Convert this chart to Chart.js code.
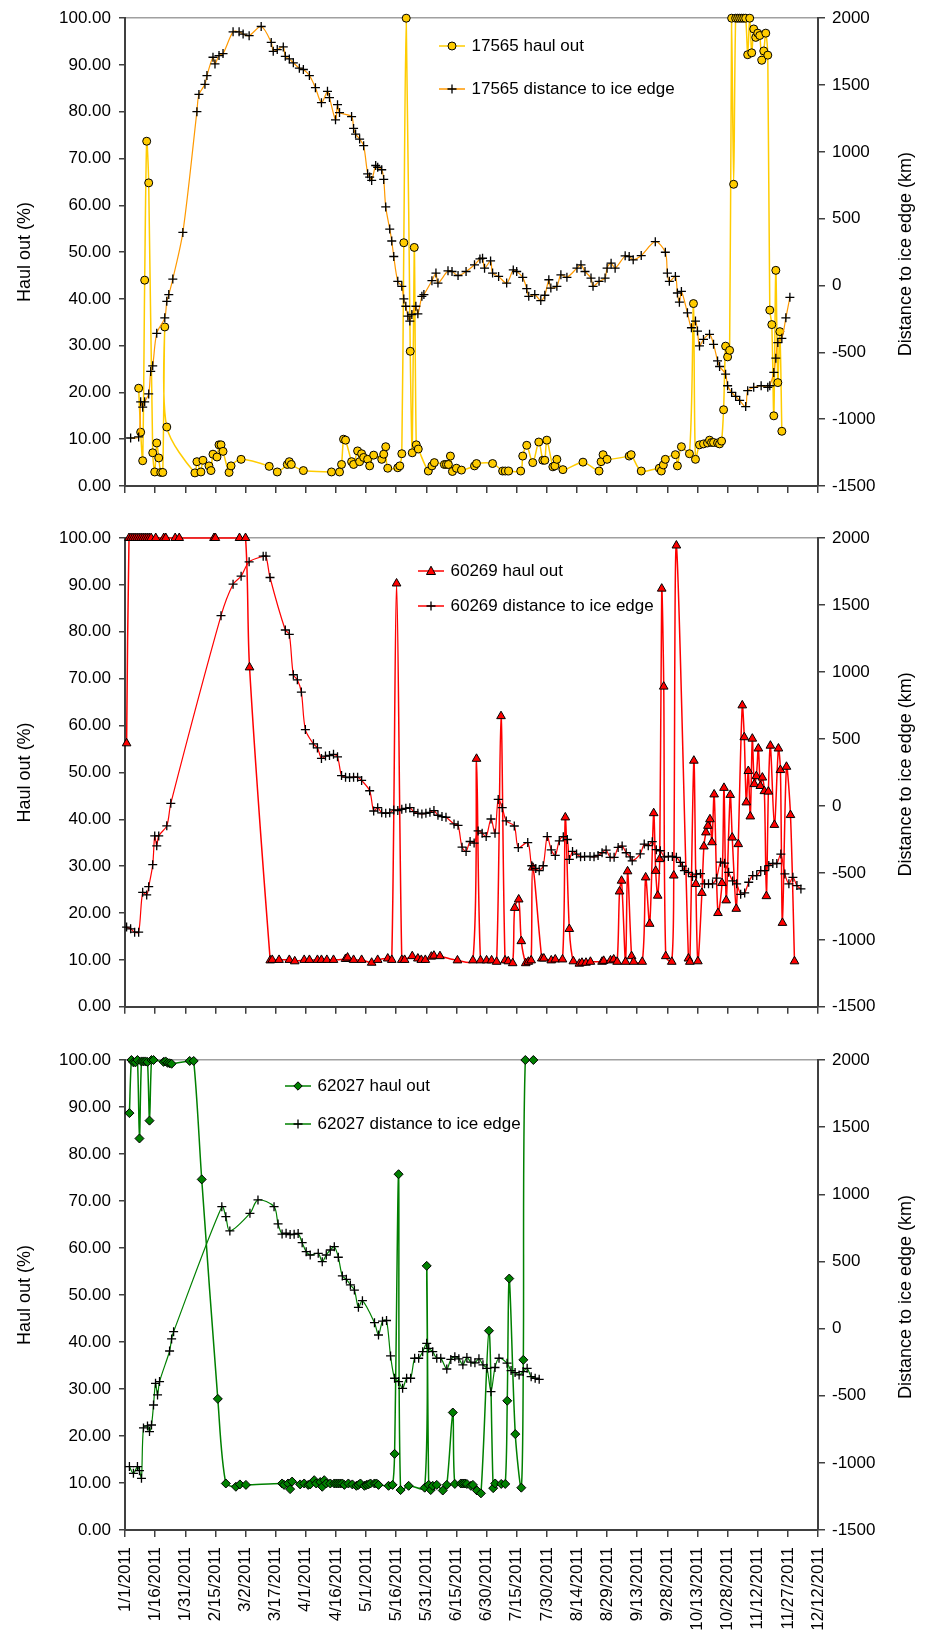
<!DOCTYPE html>
<html>
<head>
<meta charset="utf-8">
<script src="https://cdn.jsdelivr.net/npm/chart.js"></script>
<style>
body { margin: 0; background: #fff; width: 935px; height: 1639px; overflow: hidden; position: relative; }
canvas { position: absolute; left: 0; }
</style>
</head>
<body>
<canvas id="c1" width="935" height="505" style="top:0px"></canvas>
<canvas id="c2" width="935" height="520" style="top:505px"></canvas>
<canvas id="c3" width="935" height="614" style="top:1025px"></canvas>
<script>
// x axis: days since 1/1/2011, ticks every 15 days
var tickLabels = ['1/1/2011', '1/16/2011', '1/31/2011', '2/15/2011', '3/2/2011', '3/17/2011', '4/1/2011', '4/16/2011',
    '5/1/2011', '5/16/2011', '5/31/2011', '6/15/2011', '6/30/2011', '7/15/2011', '7/30/2011', '8/14/2011',
    '8/29/2011', '9/13/2011', '9/28/2011', '10/13/2011', '10/28/2011', '11/12/2011', '11/27/2011', '12/12/2011'];

// 17565
var haul17565Days = [6.8,7.8,8.8,9.8,10.8,11.8,13.8,14.8,15.8,16.8,17.8,18.8,19.8,20.8,34.8,35.8,37.8,38.8,41.8,42.8,
    43.8,45.8,46.8,47.8,48.8,51.8,52.8,57.8,71.8,75.8,80.8,81.8,82.8,88.8,102.8,106.8,107.8,108.8,109.8,112.8,
    113.8,115.8,116.8,117.8,118.8,120.8,121.8,123.8,127.8,128.8,129.8,130.8,135.8,136.8,137.8,138.8,140,142,143,144,
    145,146,151,152.8,154,159,160,161,162,163,165,167.5,174,175,183,188,189.3,191,197,198,
    200,203,206,208,209,210,213,214,215,218,228,236,237,238,240,251,252,257,266,267,
    268,269,274,275,277,281,283,284,286,288,290,291,292,293,295,296,297,298,299,300,
    301,302,303,304,305,306,307,308,309,310,311,312,313,314,315,316,317,318,319,320,
    321,322,323,324,325,326,327];
var haul17565 = [20.9,11.5,5.4,44,73.7,64.8,7.1,3.0,9.2,6.0,2.9,2.9,34,12.6,2.8,5.2,3.0,5.5,4.3,3.3,
    6.8,6.2,8.8,8.8,7.4,2.9,4.3,5.7,4.2,3.0,4.6,5.2,4.6,3.3,3.0,3.0,4.6,10.0,9.8,5.2,
    4.6,7.5,5.2,6.9,6.1,5.7,4.3,6.6,5.7,6.8,8.4,3.8,3.9,4.3,6.9,52,100,28.8,7.1,51,
    8.8,7.9,3.2,4.3,5.0,4.6,4.6,4.6,6.4,3.1,3.8,3.4,4.3,4.8,4.8,3.2,3.2,3.2,3.2,6.4,
    8.7,5.0,9.4,5.5,5.5,9.8,4.1,4.3,5.7,3.5,5.1,3.2,5.2,6.7,5.7,6.4,6.7,3.2,3.8,3.2,
    4.5,5.7,6.7,4.3,8.4,6.9,39,5.7,8.8,9.0,9.2,9.8,9.3,9.3,9.2,9.0,9.6,16.3,29.9,27.6,
    29.0,100,64.5,100,100,100,100,100,100,92.2,100,92.6,97.7,95.9,96.8,96.3,91,93,96.8,92.1,
    37.6,34.5,15,46.1,22.1,33,11.7];
var dist17565Days = [2.8,6.8,7.8,8.8,9.8,11.8,12.8,13.8,15.8,19.8,20.8,21.8,23.8,28.8,35.8,36.8,39.8,40.8,43.8,44.8,
    46.8,48.8,53.8,56.8,58.8,61.8,67.8,72.8,73.8,75.8,78.8,79.8,81.8,83.8,86.8,88.8,91.8,94.8,97.8,100.8,
    101.8,104.8,105.8,106.8,112.8,113.8,114.8,116.8,118.8,120.8,121.8,122.8,124.8,125.8,127.8,128.8,129.8,131.8,132.8,133.8,
    135.8,137.8,138.8,139.8,140.8,141.8,142.8,144.8,145.8,147.8,148.8,152.8,154.8,155.8,160.8,162.8,165.8,169.8,174,176.7,
    178,179,182,183,186,190,193.3,195,198,200,201,204,207,209,211,212,215,217,220,225,
    227,229,232,233,236,239,240,242,244,249,251,253,257,264,269,270,271,274,275,276,
    277,280,282,284,285,286,288,291,293,295,296,299,300,302,304,306,309,310,313,316.7,
    320,321,323,324,325,327,329,331];
var dist17565 = [-1141,-1133,-870,-910,-870,-811,-643,-601,-358,-242,-118,-68,48,397,1301,1430,1505,1571,1708,1658,
    1720,1735,1898,1898,1881,1869,1938,1819,1752,1765,1785,1715,1695,1666,1626,1616,1571,1480,1368,1453,
    1406,1240,1353,1294,1264,1175,1133,1096,1046,836,811,786,898,885,866,794,588,422,333,217,
    31,-6,-100,-155,-229,-266,-217,-155,-212,-81,-68,36,93,18,110,105,75,105,155,199,
    204,130,184,93,68,18,117,105,61,-24,-81,-68,-113,-73,43,-19,-6,80,61,130,
    155,105,56,-6,31,56,130,167,130,222,217,192,224,328,249,93,31,68,-56,-125,
    -44,-204,-316,-266,-341,-452,-403,-365,-440,-564,-606,-663,-750,-800,-830,-860,-906,-787,-762,-750,
    -762,-750,-650,-544,-427,-395,-242,-88];

// 60269
var haul60269Days = [0.8,2,3,4,5,6,7,8,9,10,11,12,13,15.3,19.3,20.3,25,27,44.3,45,
    57,60,62,72.3,73.3,76.7,81.8,84.5,89.2,91.8,95.8,97.8,100.5,103.8,109.8,110.8,113.8,117.8,122.8,125.8,
    130.8,132.8,135.2,137.8,139.2,143,145.8,147.5,149.5,152.5,153.8,156.8,165.5,173.2,175,177,180,182.5,185,187.2,
    189.2,190.8,193,194,196,197.3,199.5,200.8,202.2,203,207.5,208.5,212.2,214.2,217.8,219.2,221.2,223.2,226.2,227.5,
    229.5,231.7,237.5,238.3,241.7,243.3,245,246.2,247.2,249.2,250.2,252.2,253.2,257.5,259.2,261.2,263.2,264.2,265.2,266.2,
    267.2,268.2,269.2,272.2,273.2,274.5,280.5,281.2,283.2,284.2,285.2,287.2,288.2,289.2,290.2,291.2,292.2,293.3,295.2,297.2,
    298.2,299.3,301.3,302.3,304.3,305.3,307.3,308.3,309.3,310.3,311.3,312.3,313.3,314.3,315.3,316.3,317.3,318.3,319.3,320.3,
    321.3,323.3,325.3,326.3,327.3,329.3,331.3,333.3];
var haul60269 = [56.2,100,100,100,100,100,100,100,100,100,100,100,100,100,100,100,100,100,100,100,
    100,100,72.4,9.9,10,10,10,9.7,10,10,10,10,10,10,10.2,10.5,10,10,9.4,10,
    10.3,10,90.3,10,10,10.8,10.3,10,10,10.7,10.9,10.8,9.9,9.9,52.9,9.9,9.9,9.9,9.6,62,
    9.9,9.7,9.3,21.1,22.9,14,9.3,9.6,9.9,29.7,10.3,10.3,9.9,10.1,10.1,40.4,16.6,9.7,9.2,9.4,
    9.4,9.6,9.6,9.8,9.9,10.1,9.6,24.6,26.9,9.6,28.9,10.8,9.6,9.6,27.6,17.7,41.3,29.0,23.7,31.5,
    89.2,68.3,10.8,9.6,28,98.4,10.3,9.6,52.5,26.2,9.7,24.3,34.2,37.2,38.6,40,35.1,45.3,20,26.4,
    46.7,22.7,45.2,36.1,20.9,34.7,64.3,57.5,43.6,50.3,40.6,57.2,47.5,49.2,55.1,47.1,48.9,46,23.6,45.9,
    55.7,38.8,55.1,50.5,17.9,51.2,40.9,9.7];
var dist60269Days = [0.8,2.8,4.8,6.8,8.8,10.8,11.8,13.8,14.8,15.8,16.8,20.8,22.8,47.8,53.8,57.8,61.8,68.8,70.2,72.2,
    79.8,81.8,83.8,85.8,87.8,89.8,93.8,95.8,97.8,99.8,101.8,103.8,105.8,107.8,109.8,111.8,113.8,115.8,117.8,121.8,
    123.8,125.8,127.8,129.8,131.8,133.8,135.8,137.8,139.8,141.8,143.8,145.8,147.8,149.8,151.8,153.8,155.8,157.8,159.8,163.8,
    165.8,167.8,169.8,171.8,173.8,175.8,177.8,179.8,182.2,184.2,185.8,187.8,189.8,193.8,195.8,200.5,202.5,204.5,206.2,208.2,
    210.2,212.2,214.2,216.2,218.2,220.2,221.2,222.8,224.8,226.8,228.8,231.5,233.5,235.5,237.5,239.5,241.5,243.5,245.5,247.5,
    249.5,251.5,252.5,256.5,258.5,260.5,262.5,264.5,266.5,268.5,270.5,272.5,274.5,276.5,277.5,278.5,280.5,282.5,284.5,286.5,
    288.5,290.5,292.5,294.5,296.5,298.5,300.5,302.5,304.5,306.5,308.5,310.5,312.5,314.5,316.5,318.5,320.5,322.5,324.5,326.5,
    328.5,330.5,332.5,334.5,336.5];
var dist60269 = [-905,-918,-943,-943,-645,-665,-603,-439,-224,-298,-224,-149,19,1420,1655,1715,1822,1864,1864,1705,
    1313,1281,979,941,850,570,463,433,354,372,376,385,366,226,214,212,214,214,190,113,
    -38,-13,-52,-55,-52,-30,-35,-25,-18,-13,-43,-55,-60,-55,-48,-35,-70,-80,-85,-135,
    -145,-308,-340,-266,-278,-187,-204,-229,-98,-204,48,-13,-112,-150,-311,-274,-447,-467,-484,-447,
    -229,-328,-370,-261,-230,-251,-400,-340,-360,-380,-378,-378,-380,-370,-350,-330,-384,-384,-310,-300,
    -350,-380,-410,-359,-285,-297,-267,-327,-335,-380,-378,-378,-384,-422,-450,-483,-496,-528,-510,-506,
    -582,-582,-582,-540,-420,-428,-496,-560,-582,-660,-650,-570,-520,-520,-483,-483,-446,-430,-430,-360,
    -508,-582,-533,-595,-620];

// 62027
var haul62027Days = [2.2,3.2,4.2,5.2,6.2,7.2,8.2,9.2,10.2,11.2,12.2,13.2,14.2,19.2,20.2,21.2,22.2,23.2,32.2,34.2,
    38.2,46.2,50.2,55.2,57.2,60.2,78.2,79.2,81.2,82.2,83.2,87.2,89.2,91.2,92.2,94.2,95.2,97.2,98.2,99.2,
    100.2,102.2,104.2,105.2,106.2,107.2,108.2,109.2,111.2,113.2,115.2,116.2,117.2,119.2,120.2,121.2,122.2,124.2,125.2,126.2,
    131.2,133.2,134.2,136.2,137.2,141.2,149.2,150.2,151.2,152.2,153.2,155.2,158.2,160.2,163.2,164.2,167.2,168.2,169.2,170.2,
    172.2,173.2,175.2,177.2,181.2,183.3,184.3,187.3,189.3,190.3,191.3,194.3,197.3,198.3,199.3,203.3];
var haul62027 = [88.7,100,99.5,99.5,100,83.3,99.7,99.7,99.7,99.6,87.1,100,100,99.6,99.7,99.4,99.3,99.2,99.8,99.8,
    74.6,27.9,9.9,9.2,9.7,9.6,9.9,9.6,9.9,8.7,10.3,9.7,9.9,9.6,9.7,10.6,9.9,10.2,9.2,10.6,
    9.9,9.9,9.9,9.9,9.9,9.9,9.9,9.6,9.9,9.7,9.4,9.6,9.9,9.4,9.6,9.7,9.9,9.9,9.9,9.6,
    9.4,9.6,16.2,75.7,8.5,9.4,9.0,56.2,9.6,8.5,9.4,9.6,8.4,9.6,25,9.8,9.9,9.9,9.9,9.8,
    9.4,9.6,8.4,7.8,42.4,8.9,9.9,9.8,9.8,27.5,53.5,20.4,9.0,36.2,100,100];
var dist62027Days = [2.2,4.2,6.2,7.2,8.2,9.2,11.2,12.2,13.2,14.2,15.2,16.2,17.2,22.2,23.2,24.2,48.2,50.2,52.2,62.2,
    66.2,74.2,76.2,78.2,80.2,82.2,84.2,86.2,88.2,90.2,92.2,96.2,98.2,100.2,102.2,104.2,106.2,108.2,110.2,112.2,
    114.2,116.2,118.2,124.2,126.2,128.2,130.2,132.2,134.2,136.2,138.2,140.2,142.2,144.2,146.2,148.2,150.2,151.2,153.2,155.2,
    157.2,160.2,162.2,164.2,166.2,168.2,170.2,172.2,174.2,176.2,178.2,180.2,182.2,184.2,186.2,190.2,192.2,194.2,196.2,198.2,
    200.2,202.2,204.2,206.2];
var dist62027 = [-1028,-1078,-1028,-1058,-1115,-740,-725,-767,-718,-569,-408,-494,-395,-167,-77,-23,908,833,727,858,
    958,908,779,704,710,700,703,708,640,573,548,560,498,548,585,610,531,392,367,325,
    287,158,208,44,-48,55,60,-204,-370,-395,-445,-370,-370,-221,-221,-172,-110,-147,-172,-221,
    -221,-301,-230,-210,-225,-270,-215,-250,-255,-225,-270,-296,-470,-290,-221,-258,-313,-328,-345,-320,
    -296,-358,-370,-378];

Chart.defaults.font.family = '"Liberation Sans", Arial, sans-serif';
Chart.defaults.color = '#000';

function pts(days, vals) {
    return days.map(function (d, i) { return {x: d, y: vals[i]}; });
}

// small line + marker picture for the legend
function legendIcon(lineColor, shape, fill) {
    var c = document.createElement('canvas');
    c.width = 26; c.height = 14;
    var g = c.getContext('2d');
    g.strokeStyle = lineColor; g.lineWidth = 1.5;
    g.beginPath(); g.moveTo(0, 7); g.lineTo(26, 7); g.stroke();
    g.fillStyle = fill; g.strokeStyle = '#000'; g.lineWidth = 1;
    g.beginPath();
    if (shape === 'circle') {
        g.arc(13, 7, 4, 0, 2 * Math.PI);
    } else if (shape === 'triangle') {
        g.moveTo(13, 2.2); g.lineTo(17.5, 10.5); g.lineTo(8.5, 10.5); g.closePath();
    } else if (shape === 'rectRot') {
        g.moveTo(13, 2.8); g.lineTo(17.2, 7); g.lineTo(13, 11.2); g.lineTo(8.8, 7); g.closePath();
    }
    if (shape === 'cross') {
        g.moveTo(13, 2.5); g.lineTo(13, 11.5); g.moveTo(8.5, 7); g.lineTo(17.5, 7);
        g.lineWidth = 1.3; g.stroke();
    } else {
        g.fill(); g.stroke();
    }
    return c;
}

// put the legend at a fixed spot inside the plot
var placeLegend = {
    id: 'placeLegend',
    afterLayout: function (chart, args, opts) {
        var lg = chart.legend;
        lg.left = opts.x; lg.top = opts.y;
        lg.width = 450; lg.height = 200;
        lg.right = opts.x + 450; lg.bottom = opts.y + 200;
    }
};

// right axis title reads bottom to top
var rightTitle = {
    id: 'rightTitle',
    afterDraw: function (chart) {
        var ctx = chart.ctx, a = chart.chartArea;
        ctx.save();
        ctx.translate(906, (a.top + a.bottom) / 2 + 2);
        ctx.rotate(-Math.PI / 2);
        ctx.font = '18px "Liberation Sans", Arial, sans-serif';
        ctx.fillStyle = '#000';
        ctx.textAlign = 'center';
        ctx.textBaseline = 'middle';
        ctx.fillText('Distance to ice edge (km)', 0, 0);
        ctx.restore();
    }
};

function makePanel(id, p) {
    var icons = [legendIcon(p.lineColor, p.shape, p.fill), legendIcon(p.distColor, 'cross', '#000')];
    var lpad = p.rowGap - 17;
    return new Chart(document.getElementById(id), {
        type: 'line',
        data: {
            datasets: [{
                label: p.name + ' haul out',
                data: pts(p.haulDays, p.haul),
                yAxisID: 'y',
                borderColor: p.lineColor,
                borderWidth: 1.5,
                pointStyle: p.shape,
                pointRadius: p.radius,
                pointBackgroundColor: p.fill,
                pointBorderColor: '#000',
                pointBorderWidth: 1,
                tension: 0.3,
                order: 1,
                clip: false
            }, {
                label: p.name + ' distance to ice edge',
                data: pts(p.distDays, p.dist),
                yAxisID: 'y2',
                borderColor: p.distColor,
                borderWidth: 1.2,
                pointStyle: 'cross',
                pointRadius: 4.5,
                pointBorderColor: '#000',
                pointBorderWidth: 1.3,
                tension: 0.3,
                order: 0,
                clip: false
            }]
        },
        options: {
            responsive: false,
            animation: false,
            devicePixelRatio: 1,
            layout: {padding: {top: p.top, left: 0, right: 0, bottom: 0}},
            scales: {
                x: {
                    type: 'linear', min: 0, max: 345,
                    afterFit: function (s) { s.height = p.xHeight; },
                    grid: {drawOnChartArea: false, tickLength: 7, tickColor: '#404040', lineWidth: 1.5},
                    border: {color: '#404040', width: 2},
                    ticks: {
                        display: p.dates, stepSize: 15, autoSkip: false,
                        minRotation: 90, maxRotation: 90, padding: 10,
                        font: {size: 17},
                        callback: function (v) { return tickLabels[Math.round(v / 15)]; }
                    }
                },
                y: {
                    position: 'left', min: 0, max: 100,
                    afterFit: function (s) { s.width = 125; },
                    grid: {
                        color: function (c) { return c.tick && c.tick.value === 100 ? '#a0a0a0' : 'rgba(0,0,0,0)'; },
                        lineWidth: 1.5, tickLength: 6, tickColor: '#404040'
                    },
                    border: {color: '#404040', width: 2},
                    ticks: {stepSize: 10, padding: 8, font: {size: 17},
                        callback: function (v) { return v.toFixed(2); }},
                    title: {display: true, text: 'Haul out (%)', font: {size: 18}, padding: {top: 14, bottom: 0}}
                },
                y2: {
                    position: 'right', min: -1500, max: 2000,
                    afterFit: function (s) { s.width = 117; },
                    grid: {drawOnChartArea: false, tickLength: 7, tickColor: '#404040', lineWidth: 1.5},
                    border: {color: '#404040', width: 2},
                    ticks: {stepSize: 500, padding: 7, font: {size: 17},
                        callback: function (v) { return String(v); }}
                }
            },
            plugins: {
                tooltip: {enabled: false},
                legend: {
                    position: 'chartArea',
                    align: 'start',
                    labels: {
                        usePointStyle: true,
                        pointStyleWidth: 22,
                        padding: lpad,
                        font: {size: 17},
                        color: '#000',
                        generateLabels: function (chart) {
                            return chart.data.datasets.map(function (ds, i) {
                                return {text: ds.label, pointStyle: icons[i], datasetIndex: i,
                                    fillStyle: 'rgba(0,0,0,0)', strokeStyle: 'rgba(0,0,0,0)', lineWidth: 0, fontColor: '#000'};
                            });
                        }
                    }
                },
                placeLegend: {x: p.legendX + 2 - lpad, y: p.legendY - lpad - 8.5}
            }
        },
        plugins: [placeLegend, rightTitle]
    });
}

makePanel('c1', {
    name: '17565', haulDays: haul17565Days, haul: haul17565, distDays: dist17565Days, dist: dist17565,
    lineColor: '#FFCC00', distColor: '#FF9900', shape: 'circle', fill: '#FFCC00', radius: 4,
    top: 15, xHeight: 19, dates: false, legendX: 439, legendY: 46, rowGap: 43
});
makePanel('c2', {
    name: '60269', haulDays: haul60269Days, haul: haul60269, distDays: dist60269Days, dist: dist60269,
    lineColor: '#FF0000', distColor: '#FF0000', shape: 'triangle', fill: '#FF0000', radius: 5,
    top: 33, xHeight: 17, dates: false, legendX: 418, legendY: 66, rowGap: 35
});
makePanel('c3', {
    name: '62027', haulDays: haul62027Days, haul: haul62027, distDays: dist62027Days, dist: dist62027,
    lineColor: '#008000', distColor: '#008000', shape: 'rectRot', fill: '#008000', radius: 4.5,
    top: 35, xHeight: 109, dates: true, legendX: 285, legendY: 61, rowGap: 38
});
</script>
</body>
</html>
